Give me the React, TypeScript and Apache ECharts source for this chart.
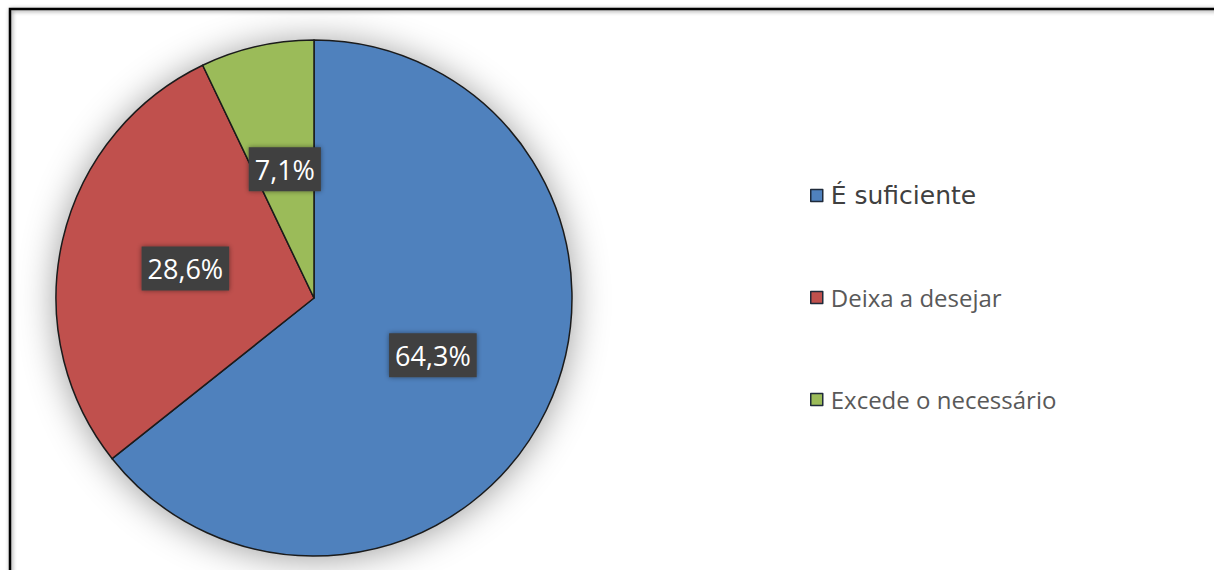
import React, { useEffect, useRef } from "react";
import * as echarts from "echarts";

const categories = ["É suficiente", "Deixa a desejar", "Excede o necessário"];
const values = [64.3, 28.6, 7.1];
const colors = ["#4f81bd", "#c0504d", "#9bbb59"];

export default function App() {
  const ref = useRef<HTMLDivElement>(null);
  useEffect(() => {
    document.body.style.margin = "0";
    const chart = echarts.init(ref.current!, null, { renderer: "svg" });
    chart.setOption({
      animation: false,
      backgroundColor: "#ffffff",
      graphic: [
        {
          type: "polyline",
          shape: {
            points: [
              [10, 600],
              [10, 9],
              [1260, 9],
            ],
          },
          style: {
            fill: null,
            stroke: "#000000",
            lineWidth: 2.5,
            shadowBlur: 4,
            shadowColor: "rgba(0,0,0,0.45)",
            shadowOffsetX: 1,
            shadowOffsetY: 1,
          },
          silent: true,
          z: 100,
        },
      ],
      legend: {
        orient: "vertical",
        left: 805,
        top: 178,
        padding: 5,
        itemWidth: 12,
        itemHeight: 12,
        itemGap: 77,
        icon: "rect",
        selectedMode: false,
        itemStyle: { borderColor: "#1f2a3a", borderWidth: 1.5 },
        textStyle: {
          fontSize: 24,
          lineHeight: 25,
          fontFamily: "Open Sans",
          color: "#595959",
          padding: [0, 0, 0, 3],
        },
        data: categories.map((c, i) =>
          i === 0
            ? {
                name: c,
                textStyle: {
                  fontFamily: "DejaVu Sans",
                  color: "#404040",
                  fontSize: 25,
                  lineHeight: 25,
                  padding: [0, 0, 0, 3],
                },
              }
            : { name: c }
        ),
      },
      series: [
        {
          type: "pie",
          center: [314, 298],
          radius: 258,
          silent: true,
          label: { show: false },
          labelLine: { show: false },
          itemStyle: {
            color: "#4f81bd",
            shadowBlur: 36,
            shadowColor: "rgba(0,0,0,0.4)",
            shadowOffsetX: 0,
            shadowOffsetY: 2,
          },
          data: [{ value: 1, name: "_bg" }],
          legendHoverLink: false,
          z: 1,
        },
        {
          type: "pie",
          center: [314, 298],
          radius: 258,
          startAngle: 90,
          clockwise: true,
          z: 2,
          itemStyle: { borderColor: "#1b1b1b", borderWidth: 1.5 },
          label: {
            show: true,
            position: "inside",
            formatter: (p: any) => String(p.value).replace(".", ",") + "%",
            color: "#ffffff",
            fontSize: 27,
            fontFamily: "Open Sans",
            backgroundColor: "#3f3f3f",
            padding: [9, 6, 8, 6],
            shadowBlur: 5,
            shadowColor: "rgba(0,0,0,0.45)",
          },
          labelLine: { show: false },
          data: categories.map((c, i) => ({
            name: c,
            value: values[i],
            itemStyle: { color: colors[i] },
          })),
        },
      ],
    });
    return () => chart.dispose();
  }, []);
  return (
    <div
      ref={ref}
      style={{ position: "fixed", left: 0, top: 0, width: 1214, height: 570 }}
    />
  );
}
